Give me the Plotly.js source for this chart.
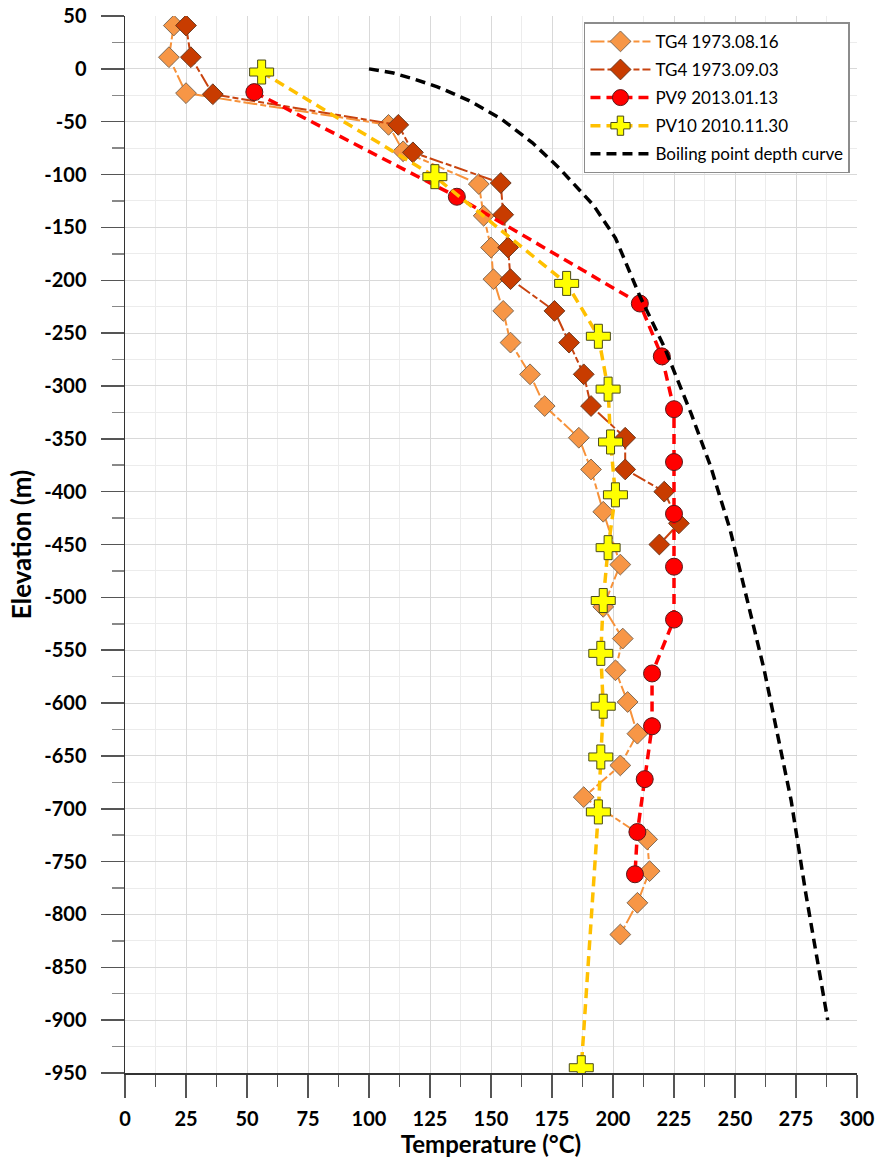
<!DOCTYPE html>
<html>
<head>
<meta charset="utf-8">
<script src="https://cdn.plot.ly/plotly-3.0.1.min.js"></script>
<style>html,body{margin:0;padding:0;background:#fff;}#chart{width:878px;height:1163px;}</style>
</head>
<body>
<div id="chart"></div>
<script>
// ---- Data ----
const tg4a_name = "TG4 1973.08.16";
const tg4a_temp = [20, 18, 25, 108, 114, 145, 147, 150, 151, 155, 158, 166, 172, 186, 191, 196, 203, 196, 204, 201, 206, 210, 203, 188, 214, 215, 210, 203];
const tg4a_elev = [41, 11, -23, -53, -78, -109, -139, -169, -199, -229, -259, -289, -319, -349, -379, -419, -469, -509, -539, -569, -599, -629, -659, -689, -729, -759, -789, -819];

const tg4b_name = "TG4 1973.09.03";
const tg4b_temp = [25, 27, 36, 112, 118, 154, 155, 157, 158, 176, 182, 188, 191, 205, 205, 221, 227, 219];
const tg4b_elev = [41, 11, -24, -53, -79, -108, -138, -169, -199, -229, -259, -289, -319, -349, -379, -400, -430, -450];

const pv9_name = "PV9 2013.01.13";
const pv9_temp = [53, 136, 211, 220, 225, 225, 225, 225, 225, 216, 216, 213, 210, 209];
const pv9_elev = [-22, -121, -222, -272, -322, -372, -421, -471, -521, -572, -622, -672, -722, -762];

const pv10_name = "PV10 2010.11.30";
const pv10_temp = [56, 127, 181, 194, 198, 199, 201, 198, 196, 195, 196, 195, 194, 187];
const pv10_elev = [-3, -102, -203, -253, -303, -353, -403, -453, -503, -553, -603, -651, -703, -945];

const bpd_name = "Boiling point depth curve";
const bpd_temp = [100, 110, 119, 128, 141, 154, 167, 178, 192, 196, 201, 211, 221, 232, 240, 248, 255, 262, 267, 273, 279, 288];
const bpd_elev = [0, -4, -10, -17, -30, -47, -70, -94, -129, -143, -160, -215, -263, -326, -376, -436, -503, -569, -625, -692, -780, -900];

const xTicks = [0, 25, 50, 75, 100, 125, 150, 175, 200, 225, 250, 275, 300];
const yTicks = [50, 0, -50, -100, -150, -200, -250, -300, -350, -400, -450, -500, -550, -600, -650, -700, -750, -800, -850, -900, -950];

// ---- Traces ----
const traces = [
  {
    name: tg4a_name, legendgroup: 'a', x: tg4a_temp, y: tg4a_elev, type: 'scatter', mode: 'lines+markers',
    line: {color: '#F7923A', width: 2, dash: '14px,3px,6px,3px'},
    marker: {symbol: 'diamond', size: 16, color: '#F79646', line: {color: '#7f6a55', width: 1}}
  },
  {
    name: tg4b_name, legendgroup: 'b', x: tg4b_temp, y: tg4b_elev, type: 'scatter', mode: 'lines+markers',
    line: {color: '#C8430F', width: 2, dash: '14px,3px,6px,3px'},
    marker: {symbol: 'diamond', size: 16, color: '#C83C00', line: {color: '#6b3a20', width: 1}}
  },
  {
    name: pv9_name, legendgroup: 'c', x: pv9_temp, y: pv9_elev, type: 'scatter', mode: 'lines+markers',
    line: {color: '#FF0000', width: 3.5, dash: '10px,6px'},
    marker: {symbol: 'circle', size: 17, color: '#FF0000', line: {color: '#5a1a1a', width: 1}}
  },
  {
    name: pv10_name, legendgroup: 'd', x: pv10_temp, y: pv10_elev, type: 'scatter', mode: 'lines+markers',
    line: {color: '#FFC000', width: 3.5, dash: '10px,6px'},
    marker: {symbol: 'cross', size: 20, color: '#FFFF00', line: {color: '#4a4a1a', width: 1}}
  },
  {
    name: bpd_name, legendgroup: 'e', x: bpd_temp, y: bpd_elev, type: 'scatter', mode: 'lines',
    line: {color: '#000000', width: 3.5, dash: '10px,6px'}
  }
];

const fam = 'Lato, "DejaVu Sans", sans-serif';
const tickFont = {family: fam, size: 20, weight: 'bold', color: '#000'};

const layout = {
  width: 878, height: 1163,
  margin: {l: 125, r: 21, t: 16, b: 90},
  paper_bgcolor: '#fff', plot_bgcolor: '#fff',
  showlegend: true,
  legend: {
    x: 0.627, y: 0.994, xanchor: 'left', yanchor: 'top',
    bgcolor: '#fff', bordercolor: '#8c8c8c', borderwidth: 1.5,
    font: {family: fam, size: 17, color: '#000'},
    itemwidth: 60, tracegroupgap: 3
  },
  xaxis: {
    range: [0, 300], tickvals: xTicks, ticktext: xTicks.map(String),
    showgrid: true, gridcolor: '#d9d9d9', gridwidth: 1,
    ticks: 'outside', ticklen: 23, tickwidth: 1.5, tickcolor: '#555',
    ticklabelstandoff: 4,
    showline: true, linecolor: '#333', linewidth: 1.5,
    zeroline: false, tickfont: tickFont,
    minor: {dtick: 12.5, tick0: 0, ticks: 'outside', ticklen: 12, tickcolor: '#555', showgrid: true, gridcolor: '#ececec', gridwidth: 1},
    title: {text: 'Temperature (°C)', font: {family: fam, size: 24, weight: 'bold', color: '#000'}, standoff: 2}
  },
  yaxis: {
    range: [-950, 50], tickvals: yTicks, ticktext: yTicks.map(String),
    showgrid: true, gridcolor: '#d9d9d9', gridwidth: 1,
    ticks: 'outside', ticklen: 23, tickwidth: 1.5, tickcolor: '#555',
    ticklabelstandoff: 10,
    showline: true, linecolor: '#333', linewidth: 1.5,
    zeroline: false, tickfont: tickFont,
    minor: {dtick: 25, tick0: 0, ticks: 'outside', ticklen: 12, tickcolor: '#888', showgrid: true, gridcolor: '#ececec', gridwidth: 1},
    title: {text: 'Elevation (m)', font: {family: fam, size: 26, weight: 'bold', color: '#000'}, standoff: 5}
  }
};

Plotly.newPlot('chart', traces, layout, {displayModeBar: false, staticPlot: true});
</script>
</body>
</html>
